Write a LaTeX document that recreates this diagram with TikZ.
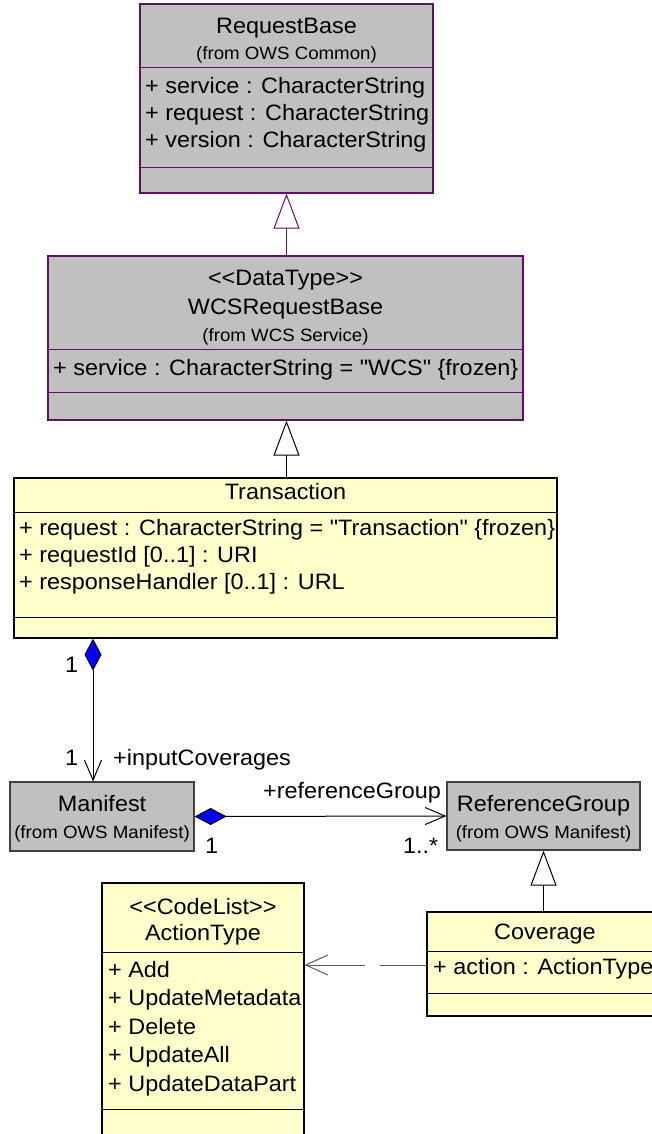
\documentclass[tikz,border=0pt]{standalone}
\usepackage{fontspec}
\newfontfamily\umlfont[FakeStretch=1.05]{Liberation Sans}
\usetikzlibrary{arrows.meta}

\definecolor{clsgray}{RGB}{192,192,192}
\definecolor{clsyellow}{RGB}{255,255,204}
\definecolor{clspurple}{RGB}{96,16,96}
\definecolor{depgray}{RGB}{90,90,90}

\tikzset{
  graycls/.style={draw=clspurple, fill=clsgray, line width=1.2pt, inner sep=0pt},
  yellowcls/.style={draw=black, fill=clsyellow, line width=1.2pt, inner sep=0pt},
  ttl/.style={anchor=base, inner sep=0pt, font=\umlfont\fontsize{22.3}{22.3}\selectfont},
  src/.style={anchor=base, inner sep=0pt, font=\umlfont\fontsize{17.8}{17.8}\selectfont},
  attr/.style={anchor=base west, inner sep=0pt, font=\umlfont\fontsize{22.3}{22.3}\selectfont},
  inherit/.style={line width=1pt, -{Triangle[length=35pt, width=26pt, fill=white]}},
  compose/.style={line width=1pt, {Diamond[length=32pt, width=17pt, fill=blue]}-{Straight Barb[length=20pt, width=17pt]}},
  depend/.style={line width=1pt, draw=depgray, dash pattern=on 46pt off 15pt on 200pt, -{Straight Barb[length=22pt, width=20pt]}}
}

\begin{document}
\begin{tikzpicture}[x=1pt, y=-1pt]
\useasboundingbox (0,0) rectangle (652,1134);

% RequestBase
\node[graycls, minimum width=293pt, minimum height=189pt] (rb) at (286.5,98.5) {};
\draw[clspurple, line width=1pt] (140,68) -- (433,68);
\draw[clspurple, line width=1pt] (140,168) -- (433,168);
\node[ttl] (rbname) at (286.5,34) {RequestBase};
\node[src] (rbfrom) at (286.5,60) {(from OWS Common)};
\node[attr] (rba1) at (145,94) {+ service : CharacterString};
\node[attr] (rba2) at (145,121) {+ request : CharacterString};
\node[attr] (rba3) at (145,148) {+ version : CharacterString};

% WCSRequestBase
\node[graycls, minimum width=475pt, minimum height=164pt] (wcs) at (285.5,338) {};
\draw[clspurple, line width=1pt] (48,349) -- (523,349);
\draw[clspurple, line width=1pt] (48,392) -- (523,392);
\node[ttl] (wcsst) at (285.5,285) {<<DataType>>};
\node[ttl] (wcsname) at (285.5,314) {WCSRequestBase};
\node[src] (wcsfrom) at (285.5,341) {(from WCS Service)};
\node[attr] (wcsa1) at (53,375) {+ service : CharacterString = "WCS" \{frozen\}};

% Transaction
\node[yellowcls, minimum width=543pt, minimum height=160pt] (tr) at (285.5,558) {};
\draw[line width=1pt] (14,512) -- (557,512);
\draw[line width=1pt] (14,617) -- (557,617);
\node[ttl] (trname) at (285.5,499) {Transaction};
\node[attr] (tra1) at (19,535) {+ request : CharacterString = "Transaction" \{frozen\}};
\node[attr] (tra2) at (19,562) {+ requestId [0..1] : URI};
\node[attr] (tra3) at (19,589) {+ responseHandler [0..1] : URL};

% Manifest
\node[graycls, draw=black!75, minimum width=184pt, minimum height=69pt] (mf) at (102,816.5) {};
\node[ttl] (mfname) at (102,811) {Manifest};
\node[src] (mffrom) at (102,838) {(from OWS Manifest)};

% ReferenceGroup
\node[graycls, draw=black!75, minimum width=193pt, minimum height=68pt] (rg) at (543.5,816) {};
\node[ttl] (rgname) at (543.5,811) {ReferenceGroup};
\node[src] (rgfrom) at (543.5,838) {(from OWS Manifest)};

% Coverage
\node[yellowcls, minimum width=236pt, minimum height=104pt] (cov) at (545,964) {};
\draw[line width=1pt] (427,951) -- (663,951);
\draw[line width=1pt] (427,993) -- (663,993);
\node[ttl] (covname) at (545,939) {Coverage};
\node[attr] (cova1) at (433,974) {+ action : ActionType};

% ActionType
\node[yellowcls, minimum width=202pt, minimum height=277pt] (act) at (203,1021.5) {};
\draw[line width=1pt] (102,952) -- (304,952);
\draw[line width=1pt] (102,1109) -- (304,1109);
\node[ttl] (actst) at (203,914) {<<CodeList>>};
\node[ttl] (actname) at (203,940) {ActionType};
\node[attr] (acta1) at (108,977) {+ Add};
\node[attr] (acta2) at (108,1005) {+ UpdateMetadata};
\node[attr] (acta3) at (108,1034) {+ Delete};
\node[attr] (acta4) at (108,1062) {+ UpdateAll};
\node[attr] (acta5) at (108,1091) {+ UpdateDataPart};

% generalisations
\draw[inherit, draw=clspurple] (wcs.north -| rb.south) -- (rb.south);
\draw[inherit] (tr.north -| rb.south) -- (wcs.south -| rb.south);
\draw[inherit] (cov.north -| rg.south) -- (rg.south);

% associations
\coordinate (inx) at (93,0);
\draw[compose] (tr.south -| inx) -- (mf.north -| inx);
\node[attr] (m1) at (65,672) {1};
\node[attr] (m2) at (65,765) {1};
\node[attr] (inrole) at (113,765) {+inputCoverages};

\draw[compose] (mf.east) -- (rg.west);
\node[attr] (refrole) at (263,798) {+referenceGroup};
\node[attr] (m3) at (205,853) {1};
\node[attr] (m4) at (403,853) {1..*};

% dependency
\coordinate (depy) at (0,965);
\draw[depend] (cov.west |- depy) -- (act.east |- depy);
\end{tikzpicture}
\end{document}
